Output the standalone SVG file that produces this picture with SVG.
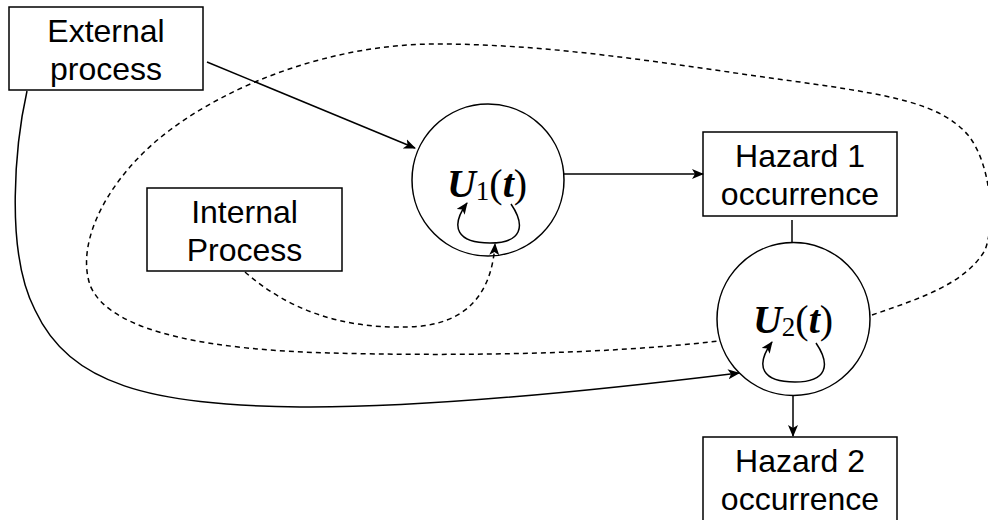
<svg xmlns="http://www.w3.org/2000/svg" width="988" height="520" viewBox="0 0 988 520">
<defs>
<style>
.box{fill:#fff;stroke:#000;stroke-width:1.5}
.circ{fill:#fff;stroke:#000;stroke-width:1.5}
.lbl{font-family:"Liberation Sans",Arial,sans-serif;font-size:32px;fill:#000;text-anchor:middle}
.math{font-family:"Liberation Serif","Times New Roman",serif;font-size:40px;fill:#000;text-anchor:middle}
.bi{font-weight:bold;font-style:italic}
.edge{fill:none;stroke:#000;stroke-width:1.5}
.dash{stroke-dasharray:5 4}
</style>
<marker id="arr" viewBox="0 0 12 10" refX="11" refY="5" markerWidth="12" markerHeight="10" markerUnits="userSpaceOnUse" orient="auto">
<path d="M0,0 L12,5 L0,10 L3,5 z" fill="#000"/>
</marker>
</defs>
<g id="external">
<rect class="box" x="9" y="7" width="194" height="83"/>
<text class="lbl" x="106" y="42">External</text>
<text class="lbl" x="106" y="80">process</text>
</g>
<g id="internal">
<rect class="box" x="147" y="188" width="195" height="83"/>
<text class="lbl" x="244.5" y="223">Internal</text>
<text class="lbl" x="244.5" y="261">Process</text>
</g>
<g id="u1">
<circle class="circ" cx="488" cy="180" r="76"/>
<text class="math" x="487" y="197"><tspan class="bi">U</tspan><tspan font-size="27" dy="3">1</tspan><tspan dy="-3">(</tspan><tspan class="bi">t</tspan>)</text>
</g>
<g id="hazard1">
<rect class="box" x="703" y="132" width="194" height="84"/>
<text class="lbl" x="800" y="167">Hazard 1</text>
<text class="lbl" x="800" y="205">occurrence</text>
</g>
<g id="u2">
<circle class="circ" cx="793.5" cy="319" r="76.5"/>
<text class="math" x="793" y="333"><tspan class="bi">U</tspan><tspan font-size="27" dy="3">2</tspan><tspan dy="-3">(</tspan><tspan class="bi">t</tspan>)</text>
</g>
<g id="hazard2">
<rect class="box" x="703" y="437" width="194" height="84"/>
<text class="lbl" x="800" y="472">Hazard 2</text>
<text class="lbl" x="800" y="510">occurrence</text>
</g>
<g id="connectors">
<path class="edge" d="M207,62 L415,148" marker-end="url(#arr)"/>
<path class="edge" d="M564,174 L703,174" marker-end="url(#arr)"/>
<path class="edge" d="M792,220 L792,243"/>
<path class="edge" d="M793,396 L793,436" marker-end="url(#arr)"/>
<path class="edge" d="M27,91 C16,140 4,250 35,310 C70,385 150,405 300,407 C420,408 600,390 739,373" marker-end="url(#arr)"/>
<path class="edge dash" d="M245,272 C300,320 360,328 407,327 C470,326 492,290 495,244" marker-end="url(#arr)"/>
<path class="edge dash" d="M872,315 C915,300 965,285 985,250 C995,225 992,165 968,135 C940,103 890,95 800,82 C680,66 560,44 437,44 C330,44 230,85 170,130 C110,175 75,240 90,285 C110,335 220,350 330,353 C450,356 600,355 718,341"/>
<path class="edge" d="M511,204 C526,226 522,243 490,243 C458,243 449,228 467,203" marker-end="url(#arr)"/>
<path class="edge" d="M816,343 C831,365 827,382 795,382 C763,382 754,367 772,342" marker-end="url(#arr)"/>
</g>
</svg>
